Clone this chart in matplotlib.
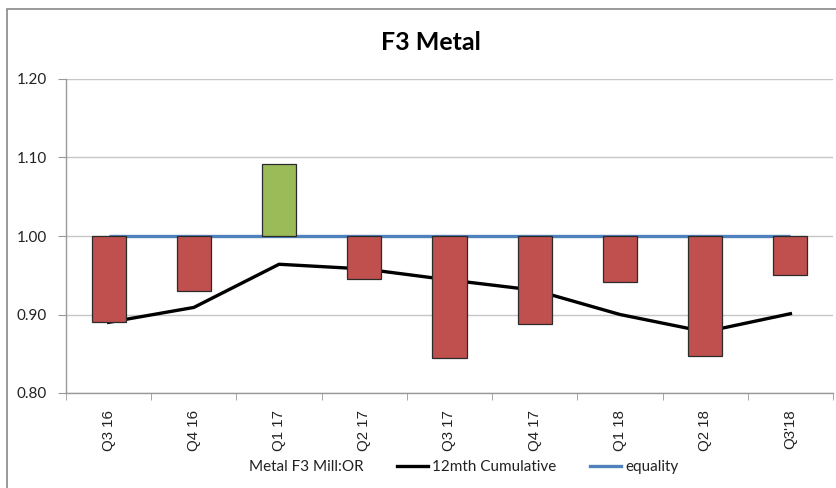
import matplotlib
matplotlib.use("Agg")
import matplotlib.pyplot as plt
from matplotlib.patches import Patch, Rectangle
from matplotlib.lines import Line2D

categories = ["Q3 16", "Q4 16", "Q1 17", "Q2 17", "Q3 17", "Q4 17", "Q1 18", "Q2 18", "Q3'18"]
mill_or = [0.891, 0.930, 1.092, 0.945, 0.845, 0.888, 0.941, 0.847, 0.950]
cumulative_12m = [0.890, 0.909, 0.964, 0.958, 0.944, 0.931, 0.900, 0.878, 0.901]
equality = [1.00] * len(categories)
y_ticks = [0.80, 0.90, 1.00, 1.10, 1.20]

plt.rcParams["font.family"] = ["Lato", "DejaVu Sans"]

fig = plt.figure(figsize=(8.37, 4.88), dpi=100)
ax = fig.add_axes([66 / 837, 1 - 393 / 488, (833 - 66) / 837, (393 - 79) / 488])

x = list(range(len(categories)))
colors = ["#9BBB59" if v >= 1 else "#C0504D" for v in mill_or]
ax.plot(x, equality, color="#4F81BD", linewidth=2.4, zorder=2, solid_capstyle="butt")
ax.plot(x, cumulative_12m, color="black", linewidth=2.4, zorder=3)
ax.bar(x, [v - 1 for v in mill_or], bottom=1, width=0.4, color=colors,
       edgecolor="#2b2b2b", linewidth=0.9, zorder=4)

ax.set_xlim(-0.5, len(categories) - 0.5)
ax.set_ylim(0.80, 1.20)
ax.set_yticks(y_ticks)
ax.set_yticklabels([f"{t:.2f}" for t in y_ticks], fontsize=11, color="#222222")
ax.yaxis.grid(True, color="#c6c6c6", linewidth=1)
ax.set_axisbelow(True)

ax.set_xticks(x)
ax.set_xticklabels(categories, rotation=90, fontsize=10.8, color="#222222",
                   family=["Liberation Sans", "DejaVu Sans"])
ax.tick_params(axis="x", length=0, pad=12)
ax.set_xticks([i - 0.5 for i in range(len(categories) + 1)], minor=True)
ax.tick_params(axis="x", which="minor", length=5, color="#999999", direction="out")
ax.tick_params(axis="y", length=6, color="#999999", pad=8)

for side in ("top", "right"):
    ax.spines[side].set_visible(False)
for side in ("left", "bottom"):
    ax.spines[side].set_color("#999999")
    ax.spines[side].set_linewidth(1)

fig.text(431 / 837, 1 - 42 / 488, "F3 Metal", ha="center", va="center",
         fontsize=18, fontweight="bold", color="black")

handles = [Patch(facecolor="none", edgecolor="none"),
           Line2D([0], [0], color="black", linewidth=2.4),
           Line2D([0], [0], color="#4F81BD", linewidth=2.4)]
labels = ["Metal F3 Mill:OR", "12mth Cumulative", "equality"]
fig.legend(handles, labels, loc="center", bbox_to_anchor=(446 / 837, 1 - 467 / 488),
           ncol=3, frameon=False, fontsize=11, handlelength=2.0, handletextpad=0.3,
           columnspacing=2.2, labelcolor="#222222")

fig.add_artist(Rectangle((7 / 837, -0.05), 1.1, 1 - 9 / 488 + 0.05,
                         transform=fig.transFigure, facecolor="none",
                         edgecolor="#888888", linewidth=1.2))

fig.savefig("out.png", dpi=100)
